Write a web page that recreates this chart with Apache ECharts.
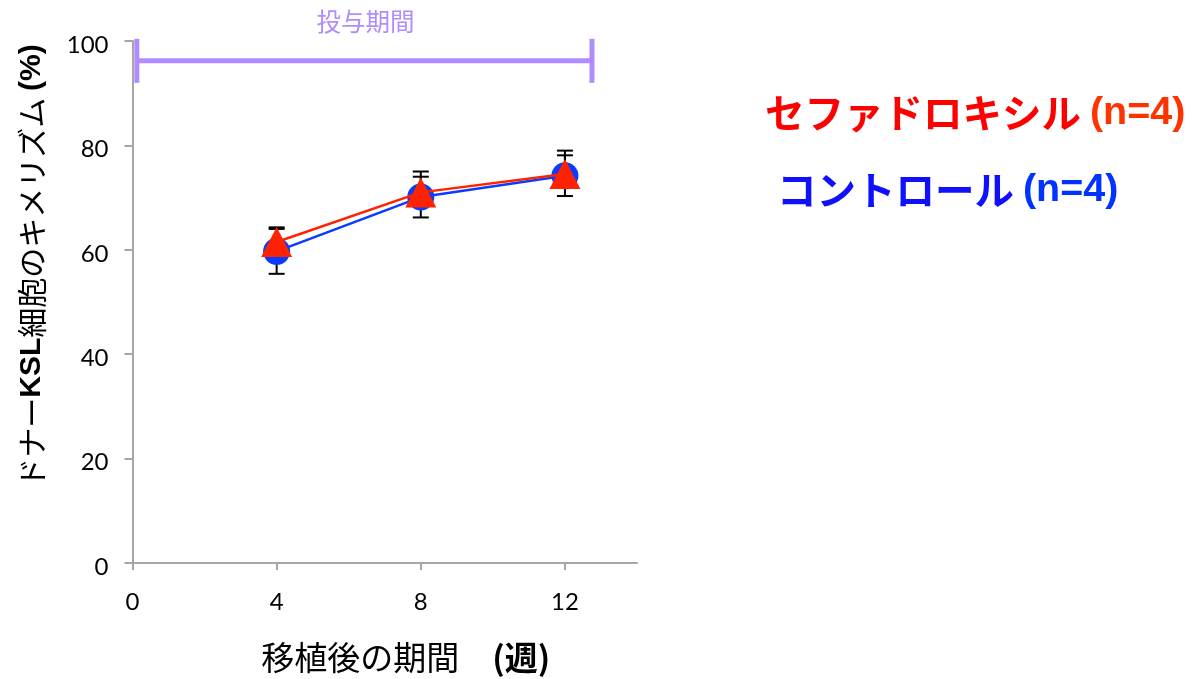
<!DOCTYPE html>
<html>
<head>
<meta charset="utf-8">
<script src="https://cdn.jsdelivr.net/npm/echarts@6/dist/echarts.min.js"></script>
<style>
  html, body { margin: 0; padding: 0; background: #fff; }
  #chart { width: 1196px; height: 679px; }
</style>
</head>
<body>
<div id="chart"></div>
<script>
// Weeks after transplantation
const weeks = [4, 8, 12];
// Donor KSL chimerism (%), mean values
const controlMean = [59.7, 70.1, 74.2];
const cefadroxilMean = [61.5, 71.0, 74.5];
// Error bar half-lengths (%)
const controlErrPlus = [4.3, 3.9, 3.9];
const controlErrMinus = [4.3, 3.9, 3.9];
const cefadroxilErrPlus = [2.8, 4.0, 4.5];
const cefadroxilErrMinus = [0, 0, 0];
// Dosing period bracket (weeks) and its height on the chimerism scale
const dosingStart = 0.12;
const dosingEnd = 12.75;
const dosingLevel = 96.2;
// Axis ticks
const xTicks = [0, 4, 8, 12];

const BLUE = '#0a3cff';
const RED = '#ff2200';
const PURPLE = '#b08cff';
const AXIS_GRAY = '#a6a6a6';
const NUM_FONT = 'Lato, "Open Sans", sans-serif';
const JP_FONT = '"Noto Sans CJK JP", sans-serif';
const LATIN_BOLD = '"Liberation Sans", Arial, sans-serif';

function errData(xs, ys, up, down) {
  return xs.map((x, i) => [x, ys[i], up[i], down[i]]);
}

// Vertical error bar with caps at the ends that have a length
function renderErr(params, api) {
  const x = api.value(0), y = api.value(1), up = api.value(2), dn = api.value(3);
  const top = api.coord([x, y + up]);
  const bot = api.coord([x, y - dn]);
  const half = 8;
  const style = { stroke: '#000', lineWidth: 2 };
  const children = [
    { type: 'line', shape: { x1: top[0], y1: top[1], x2: bot[0], y2: bot[1] }, style }
  ];
  if (up > 0) children.push({ type: 'line', shape: { x1: top[0] - half, y1: top[1], x2: top[0] + half, y2: top[1] }, style });
  if (dn > 0) children.push({ type: 'line', shape: { x1: bot[0] - half, y1: bot[1], x2: bot[0] + half, y2: bot[1] }, style });
  return { type: 'group', children };
}

// Dosing period bracket with its caption
function renderDosing(params, api) {
  const a = api.coord([api.value(0), api.value(2)]);
  const b = api.coord([api.value(1), api.value(2)]);
  const capHalf = 22;
  const style = { stroke: PURPLE, lineWidth: 5 };
  return {
    type: 'group',
    children: [
      { type: 'line', shape: { x1: a[0], y1: a[1], x2: b[0], y2: b[1] }, style },
      { type: 'line', shape: { x1: a[0], y1: a[1] - capHalf, x2: a[0], y2: a[1] + capHalf }, style },
      { type: 'line', shape: { x1: b[0], y1: b[1] - capHalf, x2: b[0], y2: b[1] + capHalf }, style },
      {
        type: 'text',
        style: {
          text: '投与期間', x: (a[0] + b[0]) / 2 + 1, y: a[1] - 39,
          align: 'center', verticalAlign: 'middle',
          fill: PURPLE, font: '24.5px ' + JP_FONT
        }
      }
    ]
  };
}

const chart = echarts.init(document.getElementById('chart'), null, { renderer: 'canvas' });

chart.setOption({
  animation: false,
  backgroundColor: '#fff',
  grid: { left: 132.5, right: 559, top: 41, bottom: 113, containLabel: false },
  xAxis: {
    type: 'value', min: 0, max: 14, interval: 4,
    name: '{a|移植後の期間　}{b|(週)}',
    nameLocation: 'middle', nameGap: 78,
    nameTextStyle: {
      padding: [0, 0, 0, 42],
      rich: {
        a: { fontSize: 33, fontFamily: JP_FONT, color: '#000' },
        b: { fontSize: 33, fontFamily: JP_FONT, fontWeight: 'bold', color: '#000' }
      }
    },
    axisLine: { lineStyle: { color: AXIS_GRAY, width: 2 } },
    axisTick: { show: true, length: 7, customValues: xTicks, lineStyle: { color: AXIS_GRAY, width: 2 } },
    axisLabel: { customValues: xTicks, margin: 27, fontSize: 24, fontFamily: NUM_FONT, color: '#000' },
    splitLine: { show: false }
  },
  yAxis: {
    type: 'value', min: 0, max: 100, interval: 20,
    name: '{a|ドナー}{b|KSL}{a|細胞のキメリズム }{b|(%)}',
    nameLocation: 'middle', nameRotate: 90, nameGap: 86,
    nameTextStyle: {
      padding: [0, 0, 0, 72],
      rich: {
        a: { fontSize: 30, fontFamily: JP_FONT, color: '#000' },
        b: { fontSize: 30, fontFamily: LATIN_BOLD, fontWeight: 'bold', color: '#000' }
      }
    },
    axisLine: { show: true, lineStyle: { color: AXIS_GRAY, width: 2 } },
    axisTick: { show: true, length: 8, lineStyle: { color: AXIS_GRAY, width: 2 } },
    axisLabel: {
      margin: 24,
      formatter: '{v|{value}}',
      rich: { v: { fontSize: 24, fontFamily: NUM_FONT, color: '#000', padding: [8, 0, 0, 0] } }
    },
    splitLine: { show: false }
  },
  graphic: [
    {
      type: 'text', x: 765, y: 113,
      style: {
        text: '{a|セファドロキシル }{b|(n=4)}',
        verticalAlign: 'middle',
        rich: {
          a: { fontSize: 39.5, fontWeight: 'bold', fontFamily: JP_FONT, fill: '#ff0000' },
          b: { fontSize: 39.5, fontWeight: 'bold', fontFamily: LATIN_BOLD, fill: '#ff3300' }
        }
      }
    },
    {
      type: 'text', x: 777, y: 190,
      style: {
        text: '{a|コントロール }{b|(n=4)}',
        verticalAlign: 'middle',
        rich: {
          a: { fontSize: 39.5, fontWeight: 'bold', fontFamily: JP_FONT, fill: '#1010ff' },
          b: { fontSize: 39.5, fontWeight: 'bold', fontFamily: LATIN_BOLD, fill: '#0033ff' }
        }
      }
    }
  ],
  series: [
    {
      type: 'custom', name: 'dosing', z: 1, silent: true,
      renderItem: renderDosing,
      data: [[dosingStart, dosingEnd, dosingLevel]]
    },
    {
      type: 'custom', name: 'control-err', z: 1, silent: true,
      renderItem: renderErr,
      data: errData(weeks, controlMean, controlErrPlus, controlErrMinus)
    },
    {
      type: 'custom', name: 'cefadroxil-err', z: 1, silent: true,
      renderItem: renderErr,
      data: errData(weeks, cefadroxilMean, cefadroxilErrPlus, cefadroxilErrMinus)
    },
    {
      type: 'line', name: 'コントロール', z: 3,
      data: weeks.map((w, i) => [w, controlMean[i]]),
      symbol: 'circle', symbolSize: 27, showAllSymbol: true,
      lineStyle: { color: BLUE, width: 2.5 },
      itemStyle: { color: BLUE, borderWidth: 0 }
    },
    {
      type: 'line', name: 'セファドロキシル', z: 4,
      data: weeks.map((w, i) => [w, cefadroxilMean[i]]),
      symbol: 'triangle', symbolSize: [31, 30], showAllSymbol: true,
      lineStyle: { color: RED, width: 2.5 },
      itemStyle: { color: RED, borderWidth: 0 }
    }
  ]
});
</script>
</body>
</html>
